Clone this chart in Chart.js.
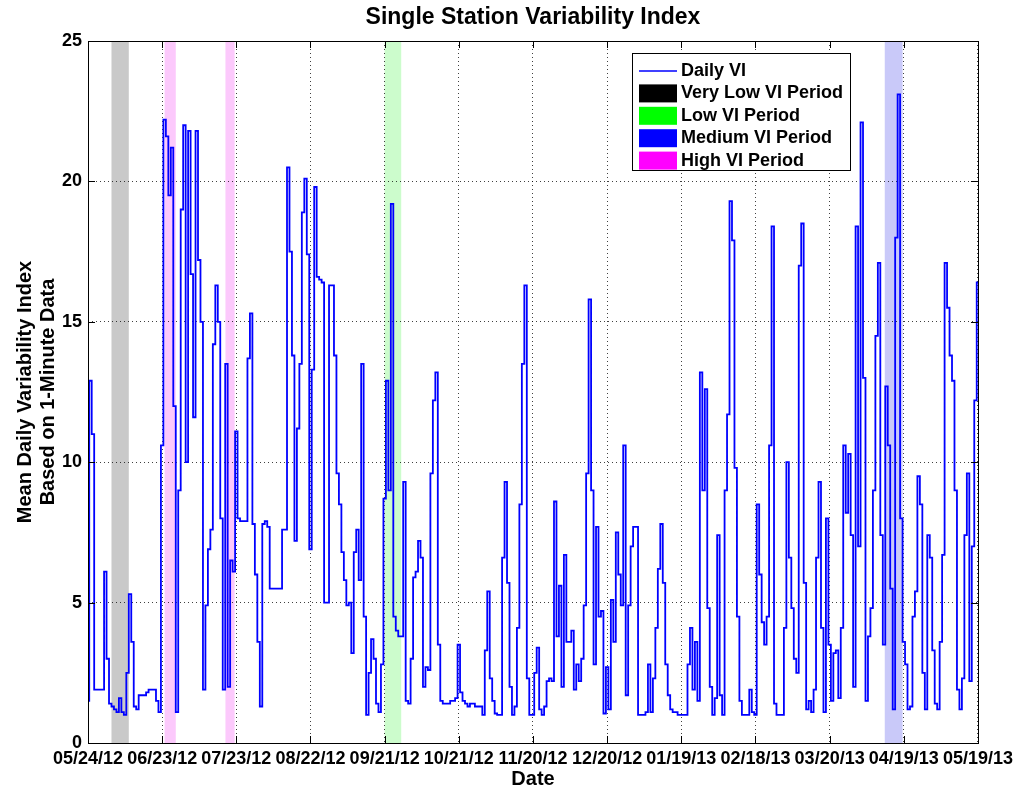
<!DOCTYPE html>
<html>
<head>
<meta charset="utf-8">
<script src="https://cdn.jsdelivr.net/npm/chart.js@4.4.0/dist/chart.umd.min.js"></script>
<style>
html,body{margin:0;padding:0;background:#fff;}
#wrap{width:1018px;height:791px;position:relative;}
</style>
</head>
<body>
<div id="wrap"><canvas id="c" width="1018" height="791"></canvas></div>
<script>
// ---- data ----
const chartTitle = 'Single Station Variability Index';
const xAxisTitle = 'Date';
const yAxisTitle = ['Mean Daily Variability Index', 'Based on 1-Minute Data'];
const xTickLabels = ['05/24/12','06/23/12','07/23/12','08/22/12','09/21/12','10/21/12','11/20/12','12/20/12','01/19/13','02/18/13','03/20/13','04/19/13','05/19/13'];
const yTickValues = [0, 5, 10, 15, 20, 25];
// Daily VI, one value per day starting 05/24/12
const dailyVI = [
  1.5,12.9,11.0,1.9,1.9,1.9,1.9,6.1,3.0,1.4,
  1.3,1.2,1.1,1.6,1.1,1.0,2.5,5.3,3.6,1.3,
  1.2,1.7,1.7,1.7,1.8,1.9,1.9,1.9,1.5,1.1,
  10.6,22.2,21.6,19.5,21.2,12.0,1.1,9.0,19.0,22.0,
  10.0,21.8,16.7,11.6,21.8,17.2,15.0,1.9,4.9,6.9,
  7.6,14.2,16.3,15.0,8.0,1.9,13.5,2.0,6.5,6.1,
  11.1,8.0,7.9,7.9,7.9,13.7,15.3,7.8,6.0,3.6,
  1.3,7.8,7.9,7.7,5.5,5.5,5.5,5.5,5.5,7.6,
  7.6,20.5,17.5,13.8,7.2,11.2,13.5,18.9,20.1,17.4,
  6.9,13.3,19.8,16.6,16.5,16.4,5.0,5.0,16.3,16.3,
  13.8,9.6,8.5,6.8,5.8,4.9,5.0,3.2,6.8,7.6,
  5.8,13.5,4.5,1.0,2.5,3.7,3.0,1.4,1.1,2.8,
  8.7,12.9,9.0,19.2,4.5,4.0,3.8,3.8,9.3,1.5,
  1.4,3.0,5.9,6.1,7.2,6.6,2.0,2.7,2.6,9.6,
  12.2,13.2,3.5,1.5,1.4,1.4,1.4,1.5,1.5,1.6,
  3.5,1.8,1.5,1.4,1.3,1.4,1.4,1.3,1.3,1.3,
  1.0,3.3,5.4,2.3,1.5,1.05,1.0,1.0,6.6,9.3,
  5.7,2.0,1.0,1.3,4.1,8.5,13.5,16.3,2.3,1.0,
  1.0,2.5,3.4,1.2,1.0,1.3,2.2,2.3,2.2,8.6,
  3.8,5.6,2.0,6.7,3.6,3.6,4.0,1.9,2.8,2.2,
  3.0,4.9,9.6,15.8,9.0,2.8,7.7,4.5,4.7,1.05,
  2.7,1.2,5.1,3.6,7.5,6.0,4.9,10.6,1.7,4.9,
  7.0,7.7,7.7,1.0,1.0,1.0,1.1,2.8,1.1,2.3,
  4.1,6.2,7.8,5.7,2.8,1.7,1.2,1.1,1.1,1.0,
  1.0,1.0,1.0,2.8,4.1,1.9,3.6,1.5,13.2,9.0,
  12.6,4.8,2.0,1.0,1.6,7.4,1.7,1.0,9.0,11.7,
  19.3,17.9,9.8,4.5,1.5,1.0,1.0,1.0,1.9,1.1,
  1.0,8.5,6.0,4.3,3.5,4.5,10.6,18.4,1.4,1.0,
  1.0,1.0,4.1,10.0,6.6,4.8,3.0,2.5,17.0,18.5,
  5.7,1.2,1.5,1.1,1.9,6.6,9.3,4.1,1.1,8.0,
  3.5,1.5,3.2,3.3,1.6,4.1,10.6,8.2,10.3,7.4,
  2.0,18.4,7.0,22.1,13.0,1.5,3.8,4.8,9.0,14.5,
  17.1,7.4,3.5,12.7,10.6,5.5,1.2,18.0,23.1,8.0,
  3.6,2.8,1.2,1.3,4.5,5.4,9.5,8.5,2.5,1.2,
  7.4,6.6,3.3,1.4,1.2,3.6,6.7,17.1,15.5,13.8,
  12.9,9.0,1.9,1.2,2.3,7.4,9.6,2.2,7.0,12.2,
  16.4
];
// shaded periods, in days since 05/24/12 [start, end]
const veryLowPeriods = [[9.5, 16.5]];
const lowPeriods = [[120.0, 126.7]];
const mediumPeriods = [[322.3, 329.5]];
const highPeriods = [[31.0, 35.5], [55.6, 59.3]];
const legendLabels = ['Daily VI', 'Very Low VI Period', 'Low VI Period', 'Medium VI Period', 'High VI Period'];

// ---- styles ----
const FONT = '"Liberation Sans", Arial, Helvetica, sans-serif';
const lineColor = '#0000ff';
const bandGroups = [
  {periods: veryLowPeriods, fill: '#c9c9c9', key: '#000000'},
  {periods: lowPeriods, fill: '#ccfccc', key: '#00ff00'},
  {periods: mediumPeriods, fill: '#c9c9f9', key: '#0000ff'},
  {periods: highPeriods, fill: '#fcc9fc', key: '#ff00ff'}
];

const points = dailyVI.map((v, i) => ({x: i, y: v}));
const xMax = (xTickLabels.length - 1) * 30;

const bandsPlugin = {
  id: 'bands',
  beforeDraw(chart) {
    const {ctx, chartArea: a, scales: {x}} = chart;
    ctx.save();
    ctx.fillStyle = '#fff';
    ctx.fillRect(0, 0, chart.width, chart.height);
    bandGroups.forEach(g => g.periods.forEach(([s, e]) => {
      const x0 = x.getPixelForValue(s), x1 = x.getPixelForValue(e);
      ctx.fillStyle = g.fill;
      ctx.fillRect(x0, a.top, x1 - x0, a.bottom - a.top);
    }));
    ctx.restore();
  }
};

const decorPlugin = {
  id: 'decor',
  afterDraw(chart) {
    const {ctx, chartArea: a, scales: {x, y}} = chart;
    ctx.save();
    // frame
    ctx.strokeStyle = '#000';
    ctx.lineWidth = 1;
    ctx.strokeRect(Math.round(a.left) + 0.5, Math.round(a.top) + 0.5, Math.round(a.right - a.left), Math.round(a.bottom - a.top));
    // inward ticks
    ctx.beginPath();
    x.ticks.forEach(t => {
      const px = Math.round(x.getPixelForValue(t.value)) + 0.5;
      ctx.moveTo(px, a.bottom); ctx.lineTo(px, a.bottom - 7);
      ctx.moveTo(px, a.top); ctx.lineTo(px, a.top + 7);
    });
    y.ticks.forEach(t => {
      const py = Math.round(y.getPixelForValue(t.value)) + 0.5;
      ctx.moveTo(a.left, py); ctx.lineTo(a.left + 7, py);
      ctx.moveTo(a.right, py); ctx.lineTo(a.right - 7, py);
    });
    ctx.stroke();

    // title
    ctx.fillStyle = '#000';
    ctx.textAlign = 'center';
    ctx.textBaseline = 'middle';
    ctx.font = 'bold 23px ' + FONT;
    ctx.fillText(chartTitle, (a.left + a.right) / 2, 18);
    // x axis title
    ctx.font = 'bold 20px ' + FONT;
    ctx.fillText(xAxisTitle, (a.left + a.right) / 2, 779);
    // y axis title
    ctx.save();
    ctx.translate(25, (a.top + a.bottom) / 2);
    ctx.rotate(-Math.PI / 2);
    ctx.fillText(yAxisTitle[0], 0, 0);
    ctx.fillText(yAxisTitle[1], 0, 23);
    ctx.restore();

    // legend
    const lx = 632, ly = 53, lw = 218, lh = 117;
    ctx.fillStyle = '#fff';
    ctx.fillRect(lx, ly, lw, lh);
    ctx.strokeStyle = '#000';
    ctx.lineWidth = 1;
    ctx.strokeRect(lx + 0.5, ly + 0.5, lw, lh);
    ctx.font = 'bold 18px ' + FONT;
    ctx.textAlign = 'left';
    ctx.textBaseline = 'middle';
    const rowY = i => ly + 18 + i * 22.4;
    // line sample
    ctx.strokeStyle = lineColor;
    ctx.lineWidth = 1.5;
    ctx.beginPath();
    ctx.moveTo(639, rowY(0)); ctx.lineTo(677, rowY(0));
    ctx.stroke();
    ctx.fillStyle = '#000';
    ctx.fillText(legendLabels[0], 681, rowY(0));
    bandGroups.forEach((g, i) => {
      const ry = rowY(i + 1);
      ctx.fillStyle = g.key;
      ctx.fillRect(639, ry - 9, 38, 18);
      ctx.fillStyle = '#000';
      ctx.fillText(legendLabels[i + 1], 681, ry);
    });
    ctx.restore();
  }
};

new Chart(document.getElementById('c'), {
  type: 'line',
  data: {
    datasets: [{
      label: legendLabels[0],
      data: points,
      borderColor: lineColor,
      borderWidth: 1.8,
      pointRadius: 0,
      stepped: 'middle',
      fill: false
    }]
  },
  options: {
    responsive: false,
    animation: false,
    events: [],
    layout: {padding: {top: 41, right: 38, left: 0, bottom: 0}},
    plugins: {legend: {display: false}, title: {display: false}, tooltip: {enabled: false}},
    scales: {
      x: {
        type: 'linear',
        min: 0,
        max: xMax,
        afterFit: s => { s.height = 48; },
        afterBuildTicks: s => { s.ticks = xTickLabels.map((l, i) => ({value: i * 30})); },
        ticks: {
          autoSkip: false,
          maxRotation: 0,
          padding: 5,
          color: '#000',
          font: {family: FONT, size: 18, weight: 'bold'},
          callback: (v) => xTickLabels[Math.round(v / 30)]
        },
        grid: {color: 'rgba(0,0,0,0.75)', lineWidth: 1, drawTicks: false},
        border: {display: false, dash: [1, 3]}
      },
      y: {
        type: 'linear',
        min: 0,
        max: 25,
        afterFit: s => { s.width = 88; },
        afterBuildTicks: s => { s.ticks = yTickValues.map(v => ({value: v})); },
        ticks: {
          padding: 6,
          color: '#000',
          font: {family: FONT, size: 18, weight: 'bold'},
          callback: v => String(v)
        },
        grid: {color: 'rgba(0,0,0,0.75)', lineWidth: 1, drawTicks: false},
        border: {display: false, dash: [1, 3]}
      }
    }
  },
  plugins: [bandsPlugin, decorPlugin]
});
</script>
</body>
</html>
